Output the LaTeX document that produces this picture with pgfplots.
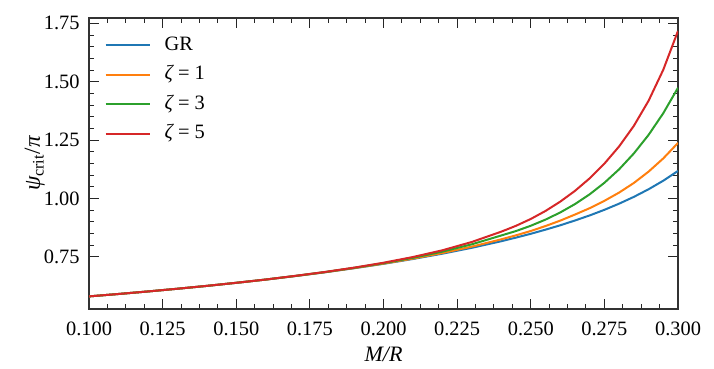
\documentclass[border=0pt]{standalone}
\usepackage{pgfplots}
\usepackage{pgfplotstable}
\pgfplotsset{compat=1.18}
\usepackage{fontspec}
\setmainfont{Liberation Serif}

\definecolor{c0}{HTML}{1F77B4}
\definecolor{c1}{HTML}{FF7F0E}
\definecolor{c2}{HTML}{2CA02C}
\definecolor{c3}{HTML}{D62728}

% critical angle psi_crit/pi versus compactness M/R
\pgfplotstableread{
x      gr      z1      z3      z5
0.100  0.5800  0.5800  0.5800  0.5800
0.110  0.5903  0.5903  0.5903  0.5903
0.120  0.6012  0.6012  0.6012  0.6012
0.130  0.6128  0.6128  0.6128  0.6128
0.140  0.6250  0.6250  0.6250  0.6251
0.150  0.6382  0.6382  0.6383  0.6383
0.160  0.6521  0.6521  0.6522  0.6523
0.170  0.6672  0.6673  0.6676  0.6679
0.180  0.6832  0.6835  0.6840  0.6845
0.190  0.7008  0.7013  0.7023  0.7033
0.200  0.7196  0.7205  0.7224  0.7243
0.210  0.7403  0.7420  0.7454  0.7488
0.220  0.7631  0.7660  0.7718  0.7776
0.230  0.7883  0.7933  0.8033  0.8133
0.240  0.8165  0.8247  0.8411  0.8575
0.245  0.8320  0.8418  0.8602  0.8826
0.250  0.8483  0.8603  0.8827  0.9118
0.255  0.8660  0.8815  0.9090  0.9461
0.260  0.8847  0.9047  0.9396  0.9860
0.265  0.9052  0.9307  0.9755  1.0321
0.270  0.9270  0.9580  1.0175  1.0859
0.275  0.9510  0.9895  1.0668  1.1489
0.280  0.9774  1.0249  1.1246  1.2226
0.285  1.0065  1.0660  1.1925  1.3107
0.290  1.0391  1.1146  1.2719  1.4182
0.295  1.0758  1.1713  1.3651  1.5513
0.300  1.1178  1.2378  1.4741  1.7177
}\datatable

\begin{document}
\begin{tikzpicture}
\begin{axis}[
  scale only axis,
  width=294.5pt, height=145.5pt,
  xmin=0.1, xmax=0.3, ymin=0.526, ymax=1.773,
  xtick={0.1,0.125,0.15,0.175,0.2,0.225,0.25,0.275,0.3},
  ytick={0.75,1.0,1.25,1.5,1.75},
  minor x tick num=3,
  minor y tick num=4,
  tick align=inside,
  xtick pos=both, ytick pos=both,
  major tick length=5pt, minor tick length=2.5pt,
  every tick/.style={black!85, line width=0.5pt},
  axis line style={black!80, line width=0.6pt},
  /pgf/number format/assume math mode=true,
  scaled ticks=false,
  xticklabel style={/pgf/number format/fixed, /pgf/number format/fixed zerofill,
    /pgf/number format/precision=3, anchor=base, yshift=-13pt,
    font=\fontsize{10.2}{12}\selectfont},
  yticklabel style={/pgf/number format/fixed, /pgf/number format/fixed zerofill,
    /pgf/number format/precision=2, anchor=east, xshift=-1.2pt,
    font=\fontsize{10.2}{12}\selectfont},
  xlabel={\itshape M/R},
  xlabel style={font=\fontsize{11}{13}\selectfont, at={(axis description cs:0.5,-0.180)}, anchor=base},
  ylabel={{\itshape ψ}\textsubscript{crit}/{\itshape π}},
  ylabel style={font=\fontsize{11.5}{13}\selectfont, at={(axis description cs:-0.092,0.5)}, anchor=center},
  legend style={draw=none, fill=none, at={(axis description cs:0.026,0.945)}, anchor=north west,
    font=\fontsize{10.2}{12}\selectfont, row sep=3.7pt, column sep=6pt, inner sep=0pt,
    nodes={inner sep=1pt, text height=7pt, text depth=2pt}},
  legend cell align=left,
  legend image code/.code={\draw[#1] (0pt,0pt) -- (22pt,0pt);},
  every axis plot/.append style={line width=1pt},
]
\addplot[c0] table[x=x, y=gr] {\datatable};
\addlegendentry{GR}
\addplot[c1] table[x=x, y=z1] {\datatable};
\addlegendentry{{\itshape ζ} = 1}
\addplot[c2] table[x=x, y=z3] {\datatable};
\addlegendentry{{\itshape ζ} = 3}
\addplot[c3] table[x=x, y=z5] {\datatable};
\addlegendentry{{\itshape ζ} = 5}
\end{axis}
\path ([xshift=-44.5pt,yshift=-28pt]current axis.south west) rectangle ([xshift=18pt,yshift=9pt]current axis.north east);
\end{tikzpicture}
\end{document}
